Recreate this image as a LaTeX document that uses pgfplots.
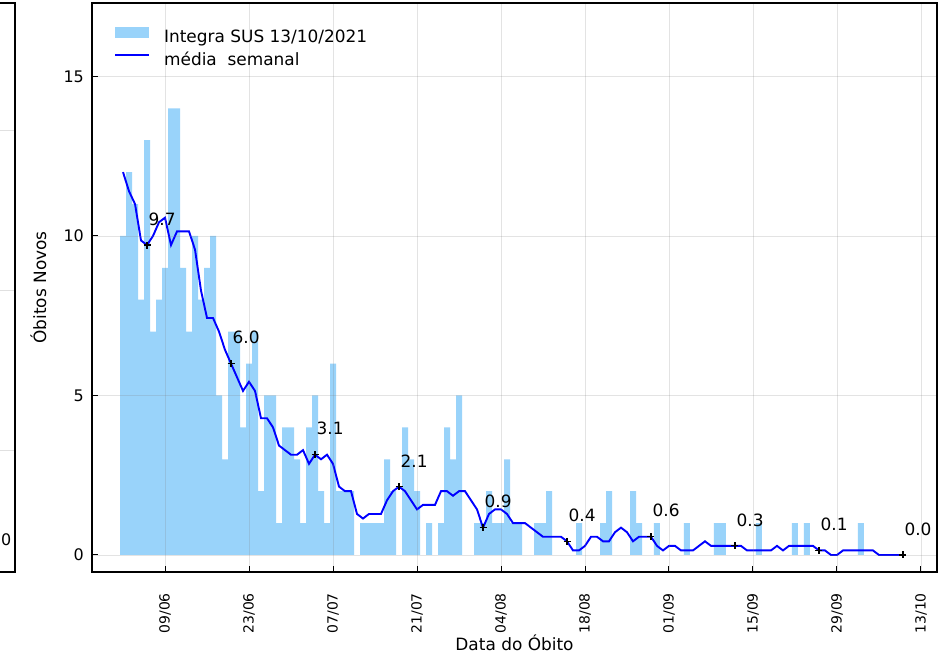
\documentclass[border=0pt]{standalone}
\usepackage{fontspec}
\setmainfont{DejaVu Sans}
\usepackage{pgfplots}
\pgfplotsset{compat=1.18}
\definecolor{barblue}{RGB}{153,211,250}
\begin{document}
\begin{tikzpicture}
% partial neighbouring panel at far left
\begin{axis}[at={(-77bp,0bp)}, anchor=south east, scale only axis,
  width=200bp, height=569bp, xmin=0, xmax=1, ymin=0, ymax=569,
  xtick=\empty, ytick={122,282,442}, yticklabels={},
  ymajorgrids, grid style={black!12, line width=0.6bp},
  axis line style={line width=1.5bp}, major tick length=0pt]
\node[anchor=base west, inner sep=0pt, font=\fontsize{16}{19}\selectfont] at (axis cs:0.93,27) {0};
\end{axis}
\begin{axis}[at={(0bp,0bp)}, anchor=south west, scale only axis,
  width=845bp, height=569bp,
  xmin=-4.17, xmax=136.67, ymin=-0.533, ymax=17.30,
  xtick={8,22,36,50,64,78,92,106,120,134},
  xticklabels={09/06,23/06,07/07,21/07,04/08,18/08,01/09,15/09,29/09,13/10},
  ytick={0,5,10,15},
  /pgf/number format/assume math mode=true,
  tick align=inside, tick pos=left, major tick length=6bp,
  every tick/.style={black, line width=1bp},
  grid=major, grid style={gray, opacity=0.22, line width=0.6bp},
  axis on top,
  axis line style={line width=1.6bp},
  xticklabel style={rotate=90, anchor=east, inner sep=0pt, font=\fontsize{14}{17}\selectfont},
  xticklabel shift=21bp,
  yticklabel style={anchor=east, inner sep=0pt, xshift=-8bp, font=\fontsize{16}{19}\selectfont},
  xlabel={Data do Óbito}, ylabel={Óbitos Novos},
  xlabel style={at={(axis description cs:0.5,-0.1248)}, anchor=center, font=\fontsize{17}{20}\selectfont},
  ylabel style={at={(axis description cs:-0.0635,0.5)}, anchor=center, rotate=0, font=\fontsize{17}{20}\selectfont},
  legend style={at={(axis description cs:0,1)}, anchor=north west, xshift=22bp, yshift=-23.6bp,
    draw=none, fill=none, inner sep=0pt, row sep=7bp,
    nodes={inner sep=0pt, text height=12.4bp, text depth=3.6bp},
    font=\fontsize{17}{20}\selectfont,
    /tikz/every odd column/.append style={column sep=14bp}},
  legend cell align=left,
]
\addplot[ybar, bar width=1, fill=barblue, draw=none,
  legend image code/.code={\fill[barblue] (0bp,0.5bp) rectangle (34bp,11.5bp);}]
  table[x=t, y=n] {
t n
1 10
2 12
3 11
4 8
5 13
6 7
7 8
8 9
9 14
10 14
11 9
12 7
13 10
14 8
15 9
16 10
17 5
18 3
19 7
20 7
21 4
22 6
23 7
24 2
25 5
26 5
27 1
28 4
29 4
30 3
31 1
32 4
33 5
34 2
35 1
36 6
37 2
38 2
39 2
41 1
42 1
43 1
44 1
45 3
46 2
48 4
49 3
50 2
52 1
54 1
55 4
56 3
57 5
60 1
61 1
62 2
63 1
64 1
65 3
66 1
67 1
70 1
71 1
72 2
77 1
81 1
82 2
86 2
87 1
90 1
95 1
100 1
101 1
107 1
113 1
115 1
124 1
};
\addlegendentry{Integra SUS 13/10/2021}
\addplot[blue, line width=1.9bp, mark=none,
  legend image code/.code={\draw[blue, line width=1.9bp] (0bp,6bp) -- (34bp,6bp);}]
  coordinates {
(1,12.0)(2,11.4)(3,11.0)(4,9.857)(5,9.714)(6,10.0)(7,10.429)(8,10.571)(9,9.714)(10,10.143)
(11,10.143)(12,10.143)(13,9.571)(14,8.286)(15,7.429)(16,7.429)(17,7.0)(18,6.429)(19,6.0)(20,5.571)
(21,5.143)(22,5.429)(23,5.143)(24,4.286)(25,4.286)(26,4.0)(27,3.429)(28,3.286)(29,3.143)(30,3.143)
(31,3.286)(32,2.857)(33,3.143)(34,3.0)(35,3.143)(36,2.857)(37,2.143)(38,2.0)(39,2.0)(40,1.286)
(41,1.143)(42,1.286)(43,1.286)(44,1.286)(45,1.714)(46,2.0)(47,2.143)(48,2.0)(49,1.714)(50,1.429)
(51,1.571)(52,1.571)(53,1.571)(54,2.0)(55,2.0)(56,1.857)(57,2.0)(58,2.0)(59,1.714)(60,1.429)
(61,0.857)(62,1.286)(63,1.429)(64,1.429)(65,1.286)(66,1.0)(67,1.0)(68,1.0)(69,0.857)(70,0.714)
(71,0.571)(72,0.571)(73,0.571)(74,0.571)(75,0.429)(76,0.143)(77,0.143)(78,0.286)(79,0.571)(80,0.571)
(81,0.429)(82,0.429)(83,0.714)(84,0.857)(85,0.714)(86,0.429)(87,0.571)(88,0.571)(89,0.571)(90,0.286)
(91,0.143)(92,0.286)(93,0.286)(94,0.143)(95,0.143)(96,0.143)(97,0.286)(98,0.429)(99,0.286)(100,0.286)
(101,0.286)(102,0.286)(103,0.286)(104,0.286)(105,0.143)(106,0.143)(107,0.143)(108,0.143)(109,0.143)(110,0.286)
(111,0.143)(112,0.286)(113,0.286)(114,0.286)(115,0.286)(116,0.286)(117,0.143)(118,0.143)(119,0)(120,0)
(121,0.143)(122,0.143)(123,0.143)(124,0.143)(125,0.143)(126,0.143)(127,0)(128,0)(129,0)(130,0)(131,0)
};
\addlegendentry{média\ \ semanal}
\addplot[only marks, mark=+, mark size=3.5bp, black, line width=1.2bp, forget plot,
  point meta=explicit symbolic, nodes near coords,
  nodes near coords style={anchor=south west, inner sep=0pt, xshift=1bp, yshift=19bp,
    font=\fontsize{17}{20}\selectfont, black}]
  coordinates {
(5,9.714)[9.7] (19,6.0)[6.0] (33,3.143)[3.1] (47,2.143)[2.1] (61,0.857)[0.9]
(75,0.429)[0.4] (89,0.571)[0.6] (103,0.286)[0.3] (117,0.143)[0.1] (131,0)[0.0]
};
\end{axis}
\pgfresetboundingbox
\path[use as bounding box] (-92bp,-85bp) rectangle (846bp,572bp);
\end{tikzpicture}
\end{document}
